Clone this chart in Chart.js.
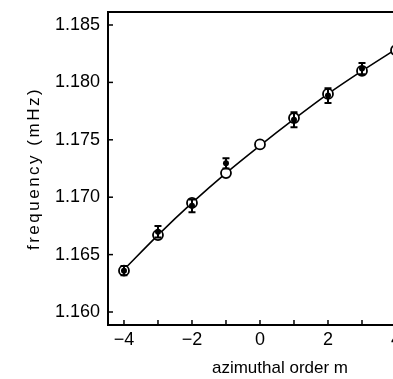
<!DOCTYPE html>
<html>
<head>
<meta charset="utf-8">
<script src="https://cdn.jsdelivr.net/npm/chart.js@4.4.1/dist/chart.umd.min.js"></script>
<style>
  html, body { margin: 0; padding: 0; background: #fff; overflow: hidden; }
  #wrap { width: 393px; height: 379px; overflow: hidden; position: relative; }
  #inner { width: 460px; height: 379px; position: relative; }
</style>
</head>
<body>
<div id="wrap"><div id="inner"><canvas id="chart"></canvas></div></div>
<script>
// Datos
const ordenM = [-4, -3, -2, -1, 0, 1, 2, 3, 4];
const frecMedida = [1.1636, 1.1667, 1.1695, 1.1721, 1.1746, 1.1769, 1.1790, 1.1810, 1.1828];
const frecAjuste = [1.1637, 1.1667, 1.1695, 1.1721, 1.1745, 1.1768, 1.1790, 1.1810, 1.1829];
// Barras de error (extremos inferior / superior), null = sin barra
const errInf = [1.1632, 1.1665, 1.1687, 1.1725, null, 1.1761, 1.1782, 1.1807, null];
const errSup = [1.1640, 1.1675, 1.1698, 1.1734, null, 1.1774, 1.1795, 1.1817, null];
const ticksX = [-4, -3, -2, -1, 0, 1, 2, 3, 4, 5];
const ticksY = [1.160, 1.165, 1.170, 1.175, 1.180, 1.185];
const tituloY = 'frequency (mHz)';

const ctx = document.getElementById('chart').getContext('2d');
const fuente = "'Liberation Sans', Arial, sans-serif";

// Plugin: barras de error, marcas de eje hacia dentro y título vertical
const extras = {
  id: 'extras',
  afterDatasetsDraw(chart) {
    const { ctx, chartArea, scales: { x, y } } = chart;
    ctx.save();
    ctx.strokeStyle = '#000';
    ctx.lineWidth = 2;
    ordenM.forEach((m, i) => {
      if (errInf[i] === null) return;
      const px = x.getPixelForValue(m);
      const y1 = y.getPixelForValue(errInf[i]);
      const y2 = y.getPixelForValue(errSup[i]);
      ctx.beginPath();
      ctx.moveTo(px, y1); ctx.lineTo(px, y2);
      ctx.moveTo(px - 3.5, y1); ctx.lineTo(px + 3.5, y1);
      ctx.moveTo(px - 3.5, y2); ctx.lineTo(px + 3.5, y2);
      ctx.stroke();
    });
    // marcas de los ejes
    ctx.lineWidth = 1.5;
    ticksX.forEach(v => {
      const px = x.getPixelForValue(v);
      ctx.beginPath();
      ctx.moveTo(px, chartArea.bottom); ctx.lineTo(px, chartArea.bottom - 5);
      ctx.stroke();
    });
    ticksY.forEach(v => {
      const py = y.getPixelForValue(v);
      ctx.beginPath();
      ctx.moveTo(chartArea.left, py); ctx.lineTo(chartArea.left + 5, py);
      ctx.stroke();
    });
    // borde superior
    ctx.lineWidth = 2;
    ctx.beginPath();
    ctx.moveTo(chartArea.left, chartArea.top); ctx.lineTo(chartArea.right, chartArea.top);
    ctx.stroke();
    // título del eje y (espaciado amplio como en el original)
    ctx.translate(34, (chartArea.top + chartArea.bottom) / 2);
    ctx.rotate(-Math.PI / 2);
    ctx.font = '17px ' + fuente;
    ctx.letterSpacing = '2.5px';
    ctx.fillStyle = '#000';
    ctx.textAlign = 'center';
    ctx.textBaseline = 'middle';
    ctx.fillText(tituloY, 0, 0);
    ctx.restore();
  }
};

new Chart(ctx, {
  type: 'scatter',
  data: {
    datasets: [
      {
        label: 'ajuste',
        type: 'line',
        data: ordenM.map((m, i) => ({ x: m, y: frecAjuste[i] })),
        borderColor: '#000',
        borderWidth: 1.6,
        pointRadius: 0,
        cubicInterpolationMode: 'monotone',
        fill: false,
        order: 3
      },
      {
        label: 'medida',
        data: ordenM.map((m, i) => ({ x: m, y: frecMedida[i] })),
        pointRadius: 5,
        pointBorderWidth: 1.8,
        pointBorderColor: '#000',
        pointBackgroundColor: '#fff',
        order: 2
      },
      {
        label: 'puntos',
        data: ordenM.map((m, i) => errInf[i] === null ? null : ({ x: m, y: (errInf[i] + errSup[i]) / 2 })).filter(p => p),
        pointRadius: 3,
        pointBorderWidth: 0,
        pointBackgroundColor: '#000',
        order: 1
      }
    ]
  },
  options: {
    responsive: true,
    maintainAspectRatio: false,
    animation: false,
    layout: { padding: { top: 12, right: 8, left: 0, bottom: 0 } },
    plugins: { legend: { display: false }, tooltip: { enabled: false } },
    scales: {
      x: {
        type: 'linear',
        min: -4.47,
        max: 5.647,
        afterBuildTicks: s => { s.ticks = ticksX.map(v => ({ value: v })); },
        afterFit: s => { s.height = 54; s.paddingLeft = 0; s.paddingRight = 0; },
        grid: { display: false, drawTicks: false },
        border: { display: true, color: '#000', width: 2 },
        ticks: {
          color: '#000',
          padding: 4,
          font: { family: fuente, size: 18 },
          callback: v => (v % 2 === 0 ? String(v).replace('-', '\u2212') : '')
        },
        title: {
          display: true,
          text: 'azimuthal order m',
          color: '#000',
          font: { family: fuente, size: 17 },
          padding: { top: 0, bottom: 0 }
        }
      },
      y: {
        min: 1.158868,
        max: 1.186132,
        afterBuildTicks: s => { s.ticks = ticksY.map(v => ({ value: v })); },
        afterFit: s => { s.width = 108; s.paddingTop = 0; s.paddingBottom = 0; },
        grid: { display: false, drawTicks: false },
        border: { display: true, color: '#000', width: 2 },
        ticks: {
          color: '#000',
          padding: 8,
          font: { family: fuente, size: 18 },
          callback: v => v.toFixed(3)
        },
        title: { display: false }
      }
    }
  },
  plugins: [extras]
});
</script>
</body>
</html>
